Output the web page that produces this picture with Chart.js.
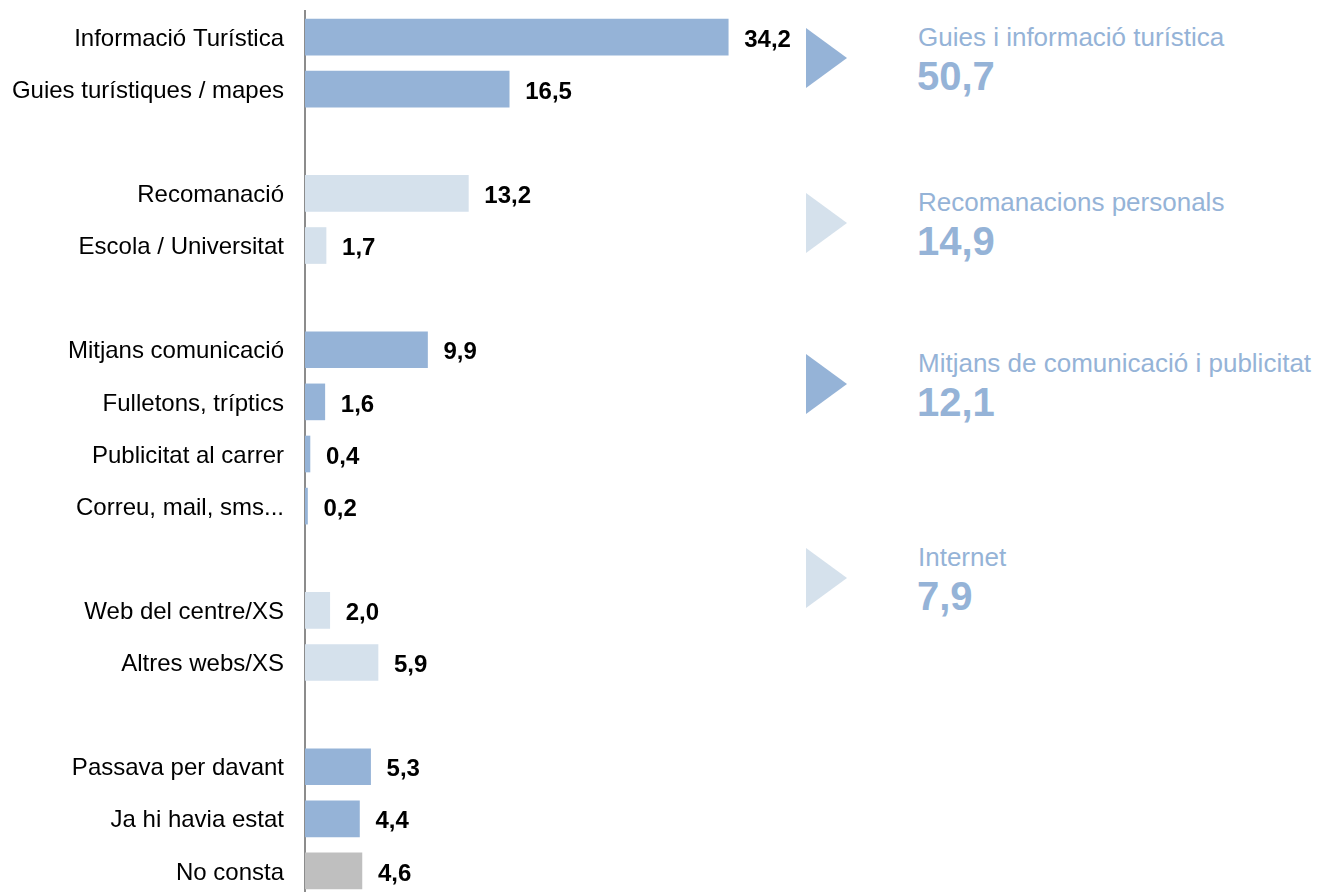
<!DOCTYPE html>
<html>
<head>
<meta charset="utf-8">
<script src="https://cdn.jsdelivr.net/npm/chart.js@4.4.1/dist/chart.umd.min.js"></script>
<style>
  html, body { margin: 0; padding: 0; background: #fff; overflow: hidden; }
  body { width: 1324px; height: 892px; position: relative; font-family: "Liberation Sans", Arial, sans-serif; }
  #wrap { position: absolute; left: 0; top: 0; width: 800px; height: 897px; }
  .tri { position: absolute; left: 806px; width: 0; height: 0;
         border-top: 30px solid transparent; border-bottom: 30px solid transparent; border-left: 41px solid #95b3d7; }
  .tri.light { border-left-color: #d5e1ec; }
  .ttl { position: absolute; left: 918px; font-size: 26px; line-height: 26px; color: #95b3d7; white-space: nowrap; }
  .num { position: absolute; left: 917px; font-size: 40px; line-height: 40px; font-weight: bold; color: #95b3d7; }
</style>
</head>
<body>
<div id="wrap"><canvas id="chart"></canvas></div>
<div id="side"></div>
<script>
// categories ("" = spacer row between groups)
const categories = [
  "Informació Turística", "Guies turístiques / mapes", "",
  "Recomanació", "Escola / Universitat", "",
  "Mitjans comunicació", "Fulletons, tríptics", "Publicitat al carrer", "Correu, mail, sms...", "",
  "Web del centre/XS", "Altres webs/XS", "",
  "Passava per davant", "Ja hi havia estat", "No consta"
];
const values = [
  34.2, 16.5, null,
  13.2, 1.7, null,
  9.9, 1.6, 0.4, 0.2, null,
  2.0, 5.9, null,
  5.3, 4.4, 4.6
];
const groups = [
  "a", "a", null,
  "b", "b", null,
  "a", "a", "a", "a", null,
  "b", "b", null,
  "a", "a", "c"
];

// summary blocks on the right
const summaryLabels = ["Guies i informació turística", "Recomanacions personals", "Mitjans de comunicació i publicitat", "Internet"];
const summaryValues = [50.7, 14.9, 12.1, 7.9];
const summaryGroups = ["a", "b", "a", "b"];

const GROUP_COLORS = { a: "#95b3d7", b: "#d5e1ec", c: "#bfbfbf" };
const FONT = "'Liberation Sans', Arial, sans-serif";
const fmt = v => v.toFixed(1).replace(".", ",");

// triangle tops (px) for the summary blocks
const SIDE_TOPS = [28, 193, 354, 548];
const side = document.getElementById("side");
summaryLabels.forEach((lbl, i) => {
  const top = SIDE_TOPS[i];
  side.insertAdjacentHTML("beforeend",
    `<div class="tri${summaryGroups[i] === "b" ? " light" : ""}" style="top:${top}px"></div>` +
    `<div class="ttl" style="top:${top - 4.5}px">${lbl}</div>` +
    `<div class="num" style="top:${top + 60 - 32}px">${fmt(summaryValues[i])}</div>`);
});

const valueLabels = {
  id: "valueLabels",
  afterDatasetsDraw(chart) {
    const ctx = chart.ctx;
    const meta = chart.getDatasetMeta(0);
    ctx.save();
    ctx.font = "bold 24px " + FONT;
    ctx.fillStyle = "#000";
    ctx.textAlign = "left";
    ctx.textBaseline = "middle";
    meta.data.forEach((bar, i) => {
      const v = values[i];
      if (v == null) return;
      ctx.fillText(fmt(v), bar.x + 16, bar.y + 3);
    });
    ctx.restore();
  }
};

new Chart(document.getElementById("chart"), {
  type: "bar",
  data: {
    labels: categories,
    datasets: [{
      data: values,
      backgroundColor: groups.map(g => g ? GROUP_COLORS[g] : "transparent"),
      borderWidth: 0,
      barThickness: 36,
    }]
  },
  options: {
    indexAxis: "y",
    responsive: true,
    maintainAspectRatio: false,
    animation: false,
    layout: { padding: { top: 11, right: 0, bottom: 0, left: 0 } },
    plugins: { legend: { display: false }, tooltip: { enabled: false } },
    scales: {
      x: { display: false, min: 0, max: 40 },
      y: {
        z: 1,
        grid: { display: false, drawTicks: false },
        border: { display: true, color: "#8c8c8c", width: 2 },
        ticks: { color: "#000", padding: 21, labelOffset: 2, font: { family: FONT, size: 24 }, autoSkip: false },
        afterFit(scale) {
          scale.width = 305;
          scale.paddingTop = 0;
          scale.paddingBottom = 0;
        }
      }
    }
  },
  plugins: [valueLabels]
});
</script>
</body>
</html>
